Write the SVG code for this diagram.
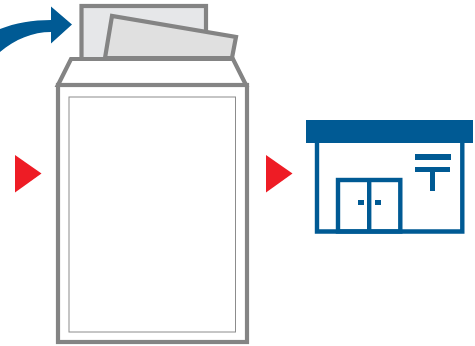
<svg xmlns="http://www.w3.org/2000/svg" width="475" height="346" viewBox="0 0 475 346">
<style>
.g{stroke:#848484;stroke-width:4.2;stroke-linejoin:miter;fill:#fff}
.b{fill:#005a94}
.bl{fill:none;stroke:#005a94;stroke-width:4.4}
.r{fill:#ee1c25}
</style>
<g id="envelope">
<rect x="81.500" y="6" width="124.500" height="54" class="g" style="fill:#e6e7e9"/>
<path d="M105 58 L112 16 L236 37 L232 58Z" class="g" style="fill:#e0e0e0"/>
<path d="M71 59 H233 L246 85 H58Z" class="g"/>
<rect x="58" y="85" width="189" height="257" class="g"/>
<rect x="69" y="97" width="166.500" height="235" fill="none" stroke="#8c8c8c" stroke-width="1"/>
</g>
<g id="arrow-curve">
<path class="b" d="M0 29 C15 23 33 20 51 20 V6.500 L72 24.500 L51 43.500 V32 C33 32 15 39 0 52Z"/>
</g>
<g id="triangle-left"><path class="r" d="M15 155 L41.500 173.500 L15 192.500Z"/></g>
<g id="triangle-right"><path class="r" d="M266 155 L292.500 173.500 L266 192.500Z"/></g>
<g id="post-office">
<rect x="306" y="120" width="167" height="23" class="b"/>
<path class="bl" d="M317 143 V231.500 H462.300 V143"/>
<rect x="338" y="180" width="62.300" height="51.500" class="bl"/>
<path class="bl" d="M369.200 179 V232"/>
<rect x="358" y="200" width="6" height="5" class="b"/>
<rect x="375" y="200" width="6" height="5" class="b"/>
<rect x="415" y="154" width="36" height="6" class="b"/>
<rect x="415" y="167" width="35" height="5" class="b"/>
<rect x="430" y="170" width="5" height="21" class="b"/>
</g>
</svg>
